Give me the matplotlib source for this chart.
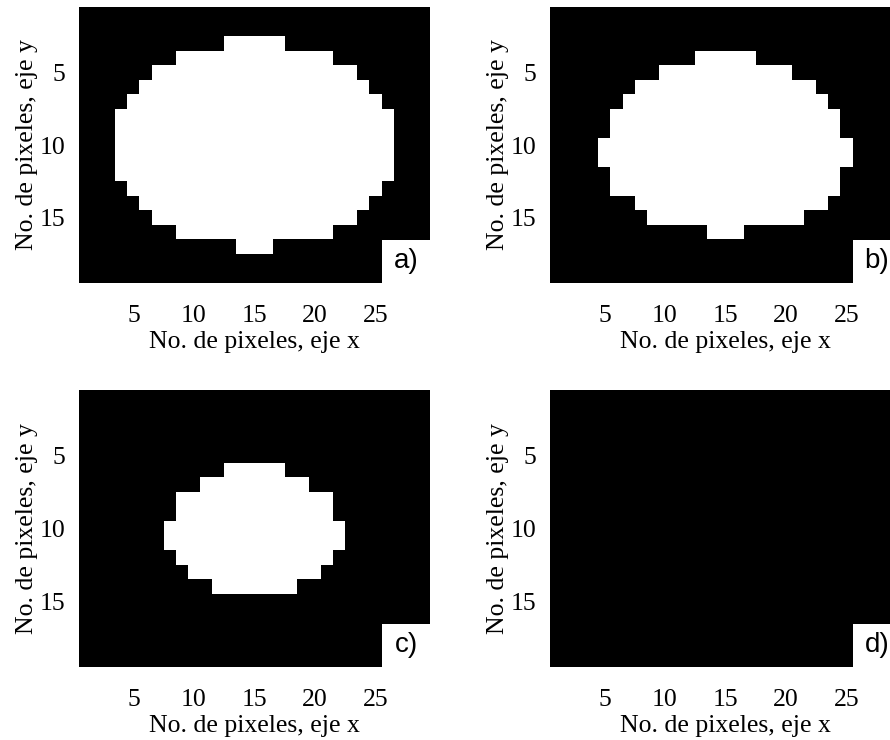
import numpy as np
import matplotlib
matplotlib.use('Agg')
import matplotlib.pyplot as plt
from matplotlib.patches import Rectangle

# binary masks, 19 rows x 29 columns; each span is (row, first col, last col), 0-based
n_rows, n_cols = 19, 29

spans_a = [(2, 12, 16), (3, 8, 20), (4, 6, 22), (5, 5, 23), (6, 4, 24),
           (7, 3, 25), (8, 3, 25), (9, 3, 25), (10, 3, 25), (11, 3, 25),
           (12, 4, 24), (13, 5, 23), (14, 6, 22), (15, 8, 20), (16, 13, 15)]
spans_b = [(3, 12, 16), (4, 9, 19), (5, 7, 21), (6, 6, 22), (7, 5, 23), (8, 5, 23),
           (9, 4, 24), (10, 4, 24), (11, 5, 23), (12, 5, 23), (13, 7, 22),
           (14, 8, 20), (15, 13, 15)]
spans_c = [(5, 12, 16), (6, 10, 18), (7, 8, 20), (8, 8, 20), (9, 7, 21), (10, 7, 21),
           (11, 8, 20), (12, 9, 19), (13, 11, 17)]
spans_d = []

panel_tags = ['a)', 'b)', 'c)', 'd)']
x_ticks = [5, 10, 15, 20, 25]
y_ticks = [5, 10, 15]


def build_mask(spans):
    img = np.zeros((n_rows, n_cols))
    for r, c0, c1 in spans:
        img[r, c0:c1 + 1] = 1
    return img


plt.rcParams['font.family'] = 'Liberation Serif'
fig = plt.figure(figsize=(8.9, 7.4), dpi=100)

W, H = 890, 740
# axes boxes in pixels: left, top, width, height
boxes = [(79, 7, 351, 276), (550, 7, 351, 276), (79, 390, 351, 277), (550, 390, 351, 277)]

for spans, tag, (l, t, w, h) in zip([spans_a, spans_b, spans_c, spans_d], panel_tags, boxes):
    ax = fig.add_axes([l / W, (H - t - h) / H, w / W, h / H])
    ax.imshow(build_mask(spans), cmap='gray', vmin=0, vmax=1, aspect='auto',
              interpolation='nearest', extent=(0.5, n_cols + 0.5, n_rows + 0.5, 0.5))
    ax.set_xticks(x_ticks)
    ax.set_yticks(y_ticks)
    ax.tick_params(axis='both', length=0, labelsize=18.5)
    ax.tick_params(axis='x', pad=16)
    ax.tick_params(axis='y', pad=10)
    ax.set_xlabel('No. de pixeles, eje x', fontsize=18.5, labelpad=3)
    ax.set_ylabel('No. de pixeles, eje y', fontsize=18.5, labelpad=1)
    for s in ax.spines.values():
        s.set_visible(False)
    # white tag box in the lower right corner
    bw, bh = 48 / w, 43 / h
    ax.add_patch(Rectangle((1 - bw, 0), bw, bh, transform=ax.transAxes,
                           facecolor='white', edgecolor='none', zorder=3))
    ax.text(1 - bw / 2, bh / 2, tag, transform=ax.transAxes, ha='center', va='center',
            fontsize=20, family='Liberation Sans', zorder=4)

fig.savefig('out.png', dpi=100)
